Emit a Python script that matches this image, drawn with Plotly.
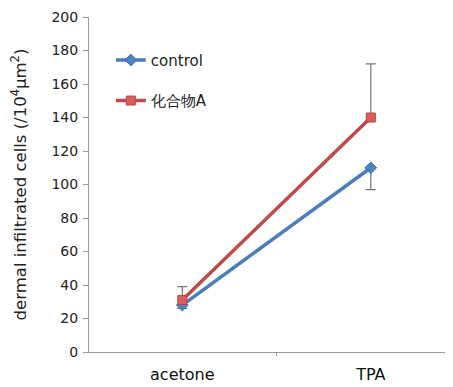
import plotly.graph_objects as go

categories = ["acetone", "TPA"]
control_values = [28, 110]
control_err_minus = [2, 13]
compound_values = [31, 140]
compound_err_plus = [8, 32]
series_names = ["control", "化合物A"]
y_ticks = [0, 20, 40, 60, 80, 100, 120, 140, 160, 180, 200]

fig = go.Figure()
fig.add_trace(go.Scatter(
    x=[0, 1], y=control_values, name=series_names[0], mode="lines+markers",
    line=dict(color="#4a7ebb", width=3.5),
    marker=dict(symbol="diamond", size=9, color="#4f81bd", line=dict(color="#3a6aa8", width=1)),
    error_y=dict(type="data", symmetric=False, array=[0, 0], arrayminus=control_err_minus,
                 color="#777777", thickness=1.2, width=5),
    legendgroup="a",
))
fig.add_trace(go.Scatter(
    x=[0, 1], y=compound_values, name=series_names[1], mode="lines+markers",
    line=dict(color="#be4b48", width=3.5),
    marker=dict(symbol="square", size=9, color="#e05c58", line=dict(color="#b84744", width=1)),
    error_y=dict(type="data", symmetric=False, array=compound_err_plus, arrayminus=[0, 0],
                 color="#777777", thickness=1.2, width=5),
    legendgroup="b",
))

fig.update_layout(
    width=445, height=379,
    margin=dict(l=81, r=0, t=9, b=35),
    plot_bgcolor="white", paper_bgcolor="white",
    font=dict(family="DejaVu Sans", color="#222222"),
    showlegend=True,
    legend=dict(x=0.06, y=0.92, xanchor="left", yanchor="top",
                font=dict(size=15, color="#222222"), bgcolor="rgba(0,0,0,0)",
                traceorder="grouped", tracegroupgap=18, itemwidth=30),
    xaxis=dict(
        range=[-0.495, 1.436], tickmode="array", tickvals=[0, 1], ticktext=categories,
        showline=True, linecolor="#999999", linewidth=1, showgrid=False, zeroline=False,
        ticks="", tickfont=dict(size=16, color="#111111"), automargin=False,
        ticklabelstandoff=8,
    ),
    yaxis=dict(
        range=[0, 200], tickvals=y_ticks, showline=True, linecolor="#999999", linewidth=1,
        showgrid=False, zeroline=False, ticks="outside", ticklen=5, tickcolor="#999999",
        tickfont=dict(size=14, color="#222222"), automargin=False, ticklabelstandoff=2,
        title=dict(text="dermal infiltrated cells (/10<sup>4</sup>μm<sup>2</sup>)",
                   font=dict(size=16.5, color="#222222"), standoff=22),
    ),
)
# boundary tick between categories
fig.add_shape(type="line", xref="x", yref="paper", x0=0.5, x1=0.5, y0=0, y1=-0.012,
              line=dict(color="#999999", width=1))

fig.write_html("out.html")
